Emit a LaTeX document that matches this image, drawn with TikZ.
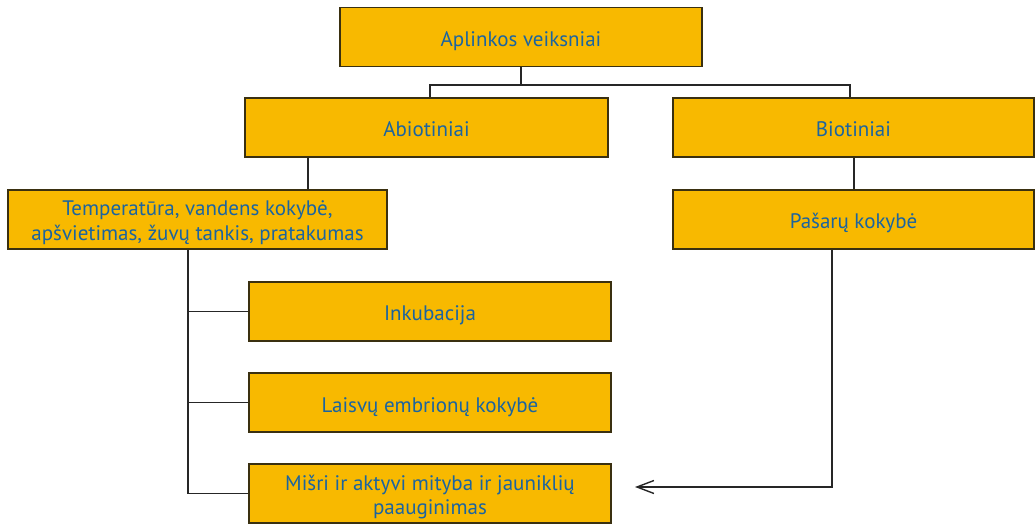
\documentclass[tikz,border=0pt]{standalone}
\usepackage{fontspec}
\setmainfont{PT Sans}
\usetikzlibrary{arrows.meta}
\definecolor{boxfill}{HTML}{F8B900}
\definecolor{boxtext}{HTML}{1B64A0}
\definecolor{boxline}{HTML}{3A3010}
\tikzset{
  fbox/.style={draw=boxline, line width=1.6pt, fill=boxfill, text=boxtext,
    minimum height=59pt, inner sep=0pt, align=center,
    font=\fontsize{21}{24.5}\selectfont},
  oneline/.style={text height=19pt, text depth=0pt},
  twoline/.style={text height=42pt, text depth=0pt},
  conn/.style={draw=black!85, line width=1.5pt},
}
\begin{document}
\begin{tikzpicture}[x=1pt,y=-1pt]
\useasboundingbox (0,0) rectangle (1036,526);
\node[fbox, oneline, minimum width=362pt] (top) at (521,37) {Aplinkos veiksniai};
\node[fbox, oneline, minimum width=363pt] (abio) at (426.5,127.5) {Abiotiniai};
\node[fbox, oneline, minimum width=361pt] (bio) at (853.5,127.5) {Biotiniai};
\node[fbox, twoline, minimum width=379pt] (temp) at (197.5,219.5) {Temperatūra, vandens kokybė,\\apšvietimas, žuvų tankis, pratakumas};
\node[fbox, oneline, minimum width=361pt] (pas) at (853.5,219.5) {Pašarų kokybė};
\node[fbox, oneline, minimum width=362pt] (ink) at (430,311.5) {Inkubacija};
\node[fbox, oneline, minimum width=362pt] (lai) at (430,402.5) {Laisvų embrionų kokybė};
\node[fbox, twoline, minimum width=362pt] (mis) at (430,493.5) {Mišri ir aktyvi mityba ir jauniklių\\paauginimas};
\coordinate (j) at (521,85);
\coordinate (arr) at (635,487);
\draw[conn] (top.south) -- (j);
\draw[conn] ([xshift=3.5pt]abio.north) |- (j) -| ([xshift=-3.5pt]bio.north);
\draw[conn] ([xshift=-118.5pt]abio.south) -- ([xshift=110.5pt]temp.north);
\draw[conn] ([xshift=0.5pt]bio.south) -- ([xshift=0.5pt]pas.north);
\draw[conn] ([xshift=-9.5pt]temp.south) |- (ink.west);
\draw[conn] ([xshift=-9.5pt]temp.south) |- (lai.west);
\draw[conn] ([xshift=-9.5pt]temp.south) |- (mis.west);
\draw[conn, -{Straight Barb[length=17pt,width=13pt,line width=1.4pt]}] ([xshift=-21.5pt]pas.south) |- (arr);
\end{tikzpicture}
\end{document}
